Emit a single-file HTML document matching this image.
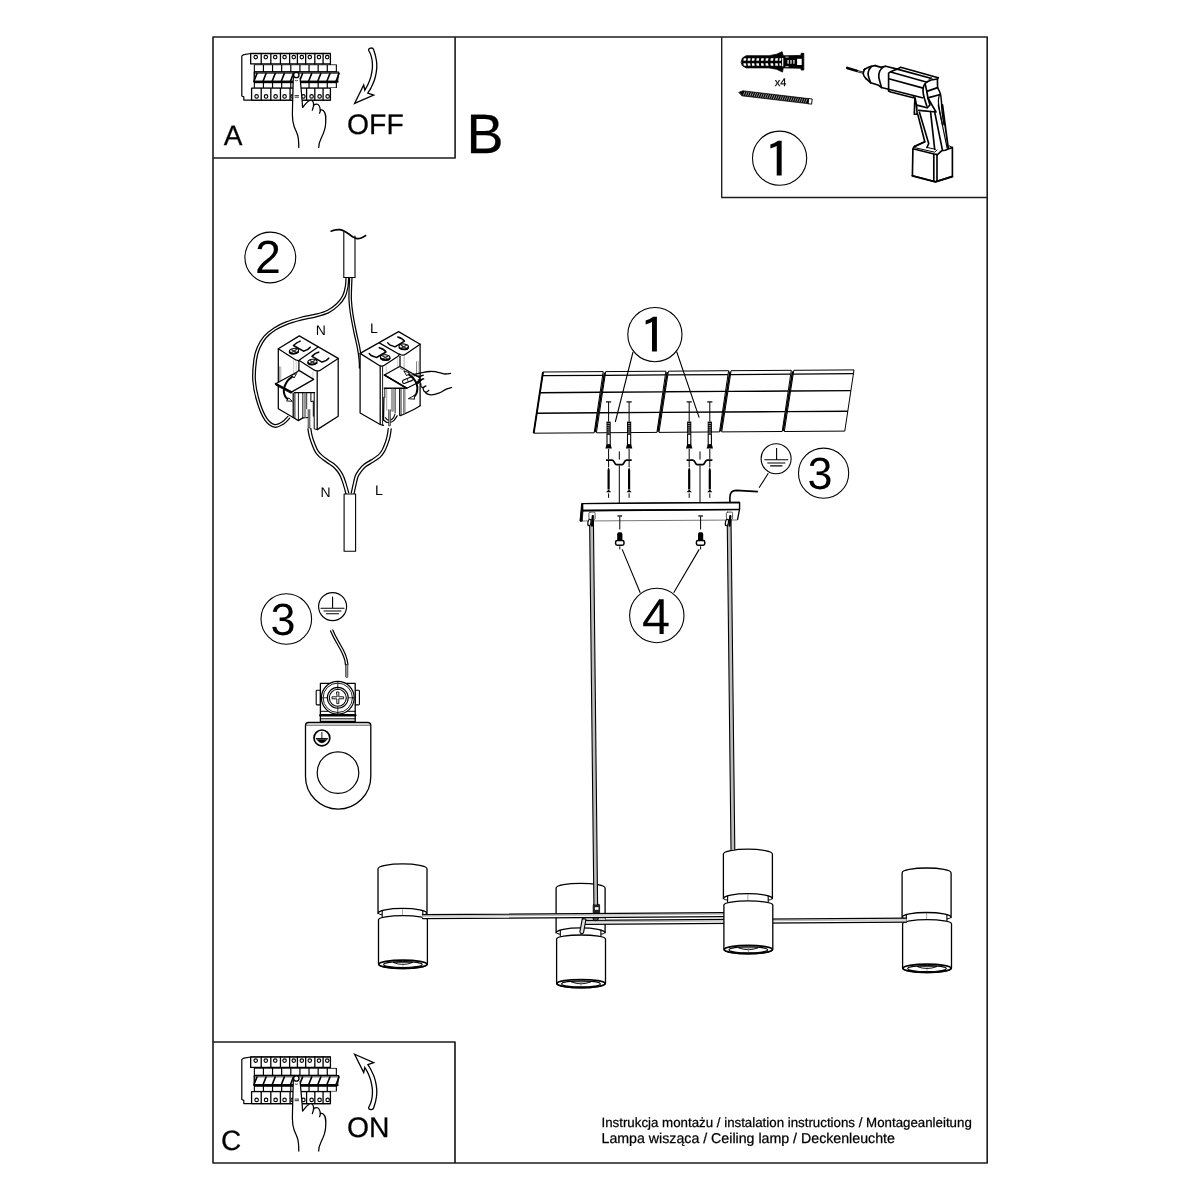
<!DOCTYPE html>
<html lang="pl"><head><meta charset="utf-8"><title>Instrukcja montażu</title>
<style>
html,body{margin:0;padding:0;background:#fff}
svg{display:block}
text{font-family:"Liberation Sans",sans-serif;fill:#000;text-rendering:geometricPrecision}
svg{filter:grayscale(1)}
.d1{font-family:"IPAGothic","Liberation Sans",sans-serif}
.l{fill:none;stroke:#000;stroke-width:1}
.t{fill:none;stroke:#000;stroke-width:.7}
.k{fill:none;stroke:#000;stroke-width:1.5}
.w{fill:#fff;stroke:#000;stroke-width:1}
.b{fill:#000;stroke:none}
</style></head><body>
<svg width="1200" height="1200" viewBox="0 0 1200 1200">
<rect width="1200" height="1200" fill="#fff"/>
<g id="frame" fill="none" stroke="#1c1c1c" stroke-linejoin="round">
<rect x="213" y="37" width="774.2" height="1126" stroke-width="1.6"/>
<path d="M455.1 37V158H213" stroke-width="1.6"/>
<path d="M721.7 37V197.5H987.2" stroke-width="1.35"/>
<path d="M213 1042H455V1163" stroke-width="1.65"/>
</g>
<g id="labels" stroke="#000" stroke-width="0.25">
<text x="223.8" y="145" font-size="28">A</text>
<text x="466.6" y="153.4" font-size="55.5">B</text>
<text x="347.1" y="133.8" font-size="28.3">OFF</text>
<text x="220.9" y="1150.4" font-size="28">C</text>
<text x="347.1" y="1136.8" font-size="28.3">ON</text>
<text x="774.8" y="85.8" font-size="11">x4</text>
<text x="601.5" y="1126.6" font-size="13.3">Instrukcja montażu / instalation instructions / Montageanleitung</text>
<text x="601.5" y="1142.7" font-size="14.2">Lampa wisząca / Ceiling lamp / Deckenleuchte</text>
</g>

<g id="ceiling" class="l" stroke-width="1.5" stroke-linejoin="round">
<path d="M543 372L603.2 371.6L594.2 432.8L533.7 433.2Z" fill="#fff"/>
<path d="M542.4 375.7L602.7 375.3" stroke-width="1.25"/>
<path d="M539.9 392.7L600.2 392.3" stroke-width="1.45"/>
<path d="M536.7 413.2L597.1 412.8" stroke-width="1.45"/>
<path d="M543 372L533.7 433.2" stroke-width="1.9"/>
<path d="M605.7 371.6L665.9 371.2L656.9 432.4L596.4 432.8Z" fill="#fff"/>
<path d="M605.1 375.3L665.3 374.9" stroke-width="1.25"/>
<path d="M602.5 392.3L662.8 391.9" stroke-width="1.45"/>
<path d="M599.4 412.8L659.8 412.4" stroke-width="1.45"/>
<path d="M604.5 372.6L595.2 432.2" stroke-width="1.7" stroke-linecap="butt"/>
<path d="M668.4 371.2L728.6 370.7L719.5 431.9L659 432.4Z" fill="#fff"/>
<path d="M667.8 374.9L728 374.5" stroke-width="1.25"/>
<path d="M665.2 391.8L725.5 391.4" stroke-width="1.45"/>
<path d="M662.1 412.4L722.5 412" stroke-width="1.45"/>
<path d="M667.2 372.2L657.9 431.8" stroke-width="1.7" stroke-linecap="butt"/>
<path d="M731.1 370.7L791.3 370.3L782.2 431.5L721.7 431.9Z" fill="#fff"/>
<path d="M730.5 374.5L790.7 374.1" stroke-width="1.25"/>
<path d="M727.9 391.4L788.2 391" stroke-width="1.45"/>
<path d="M724.7 412L785.1 411.6" stroke-width="1.45"/>
<path d="M729.9 371.7L720.6 431.3" stroke-width="1.7" stroke-linecap="butt"/>
<path d="M793.8 370.3L854 369.9L844.8 431.1L784.3 431.5Z" fill="#fff"/>
<path d="M793.2 374L853.4 373.6" stroke-width="1.25"/>
<path d="M790.6 391L850.9 390.6" stroke-width="1.45"/>
<path d="M787.4 411.6L847.8 411.2" stroke-width="1.45"/>
<path d="M792.6 371.3L783.2 430.9" stroke-width="1.7" stroke-linecap="butt"/>
</g>

<g id="anchors" stroke="#000" fill="none">
<path d="M606 401.9H611.2" stroke-width="1.2"/>
<path d="M608.6 402V421.6" stroke-width="1"/>
<rect x="606.5" y="421.6" width="4.2" height="12" fill="#000" stroke="none"/>
<path d="M607.4 423.6H609.8" stroke="#fff" stroke-width="0.6"/>
<path d="M607.4 425.7H609.8" stroke="#fff" stroke-width="0.6"/>
<path d="M607.4 427.8H609.8" stroke="#fff" stroke-width="0.6"/>
<path d="M607.4 429.9H609.8" stroke="#fff" stroke-width="0.6"/>
<path d="M607.4 432H609.8" stroke="#fff" stroke-width="0.6"/>
<rect x="607" y="434.2" width="3.2" height="10.6" fill="#fff" stroke-width="1.1"/>
<path d="M606.5 444.6H610.7L611.8 448.4H605.4Z" fill="#000" stroke="none"/>
<path d="M608.6 449V459" stroke-width="1"/>
<path d="M608.6 467L609.7 470V489.6H607.5V470Z" fill="#000" stroke="none"/>
<path d="M608.6 489.4L611.2 492.2H606Z" fill="#000" stroke="none"/>
<path d="M608.6 461V467M608.6 493.4V497.8" stroke-width="1"/>
<path d="M626.5 401.9H631.7" stroke-width="1.2"/>
<path d="M629.1 402V421.6" stroke-width="1"/>
<rect x="627" y="421.6" width="4.2" height="12" fill="#000" stroke="none"/>
<path d="M627.9 423.6H630.3" stroke="#fff" stroke-width="0.6"/>
<path d="M627.9 425.7H630.3" stroke="#fff" stroke-width="0.6"/>
<path d="M627.9 427.8H630.3" stroke="#fff" stroke-width="0.6"/>
<path d="M627.9 429.9H630.3" stroke="#fff" stroke-width="0.6"/>
<path d="M627.9 432H630.3" stroke="#fff" stroke-width="0.6"/>
<rect x="627.5" y="434.2" width="3.2" height="10.6" fill="#fff" stroke-width="1.1"/>
<path d="M627 444.6H631.2L632.3 448.4H625.9Z" fill="#000" stroke="none"/>
<path d="M629.1 449V459" stroke-width="1"/>
<path d="M629.1 467L630.2 470V489.6H628V470Z" fill="#000" stroke="none"/>
<path d="M629.1 489.4L631.7 492.2H626.5Z" fill="#000" stroke="none"/>
<path d="M629.1 461V467M629.1 493.4V497.8" stroke-width="1"/>
<path d="M606 460.1H612.1C614.7 460.1 614.1 464.6 616.5 464.6H622.1C624.5 464.6 623.9 460.1 626.5 460.1H631.7" stroke-width="1.7"/>
<path d="M619.3 451.4V459.6M619.3 465.4V503" stroke-width="1"/>
<path d="M686.6 401.9H691.8" stroke-width="1.2"/>
<path d="M689.2 402V421.6" stroke-width="1"/>
<rect x="687.1" y="421.6" width="4.2" height="12" fill="#000" stroke="none"/>
<path d="M688 423.6H690.4" stroke="#fff" stroke-width="0.6"/>
<path d="M688 425.7H690.4" stroke="#fff" stroke-width="0.6"/>
<path d="M688 427.8H690.4" stroke="#fff" stroke-width="0.6"/>
<path d="M688 429.9H690.4" stroke="#fff" stroke-width="0.6"/>
<path d="M688 432H690.4" stroke="#fff" stroke-width="0.6"/>
<rect x="687.6" y="434.2" width="3.2" height="10.6" fill="#fff" stroke-width="1.1"/>
<path d="M687.1 444.6H691.3L692.4 448.4H686Z" fill="#000" stroke="none"/>
<path d="M689.2 449V459" stroke-width="1"/>
<path d="M689.2 467L690.3 470V489.6H688.1V470Z" fill="#000" stroke="none"/>
<path d="M689.2 489.4L691.8 492.2H686.6Z" fill="#000" stroke="none"/>
<path d="M689.2 461V467M689.2 493.4V497.8" stroke-width="1"/>
<path d="M707.2 401.9H712.4" stroke-width="1.2"/>
<path d="M709.8 402V421.6" stroke-width="1"/>
<rect x="707.7" y="421.6" width="4.2" height="12" fill="#000" stroke="none"/>
<path d="M708.6 423.6H711" stroke="#fff" stroke-width="0.6"/>
<path d="M708.6 425.7H711" stroke="#fff" stroke-width="0.6"/>
<path d="M708.6 427.8H711" stroke="#fff" stroke-width="0.6"/>
<path d="M708.6 429.9H711" stroke="#fff" stroke-width="0.6"/>
<path d="M708.6 432H711" stroke="#fff" stroke-width="0.6"/>
<rect x="708.2" y="434.2" width="3.2" height="10.6" fill="#fff" stroke-width="1.1"/>
<path d="M707.7 444.6H711.9L713 448.4H706.6Z" fill="#000" stroke="none"/>
<path d="M709.8 449V459" stroke-width="1"/>
<path d="M709.8 467L710.9 470V489.6H708.7V470Z" fill="#000" stroke="none"/>
<path d="M709.8 489.4L712.4 492.2H707.2Z" fill="#000" stroke="none"/>
<path d="M709.8 461V467M709.8 493.4V497.8" stroke-width="1"/>
<path d="M686.6 460.1H692.8C695.4 460.1 694.8 464.6 697.2 464.6H702.8C705.2 464.6 704.6 460.1 707.2 460.1H712.4" stroke-width="1.7"/>
<path d="M700 451.4V459.6M700 465.4V503" stroke-width="1"/>
</g>

<g id="canopy" stroke="#000" fill="none" stroke-linejoin="round">
<path d="M580.3 521L737.5 520" stroke-width="1" stroke="#777"/>
<path d="M582.5 503.7L739.5 502.5L739.5 509.3L737.5 519.9M582.5 503.7L580.3 520.9" stroke-width="1.3" />
<path d="M582.5 503.7L739.5 502.5L739.5 509.3L582 510.5Z" fill="#fff" stroke-width="1.3"/>
<path d="M582 510.7L739.5 509.5" stroke-width="1.7"/>
<path d="M581.6 503.4L582.8 503.6L583 510.6L582.2 521.2L580 521.2Z" fill="#000" stroke-width="0.8"/>
<path d="M617.5 516H622.1" stroke-width="1.3"/>
<path d="M619.8 516.5V529.5" stroke-width="1"/>
<path d="M617.2 541V534.2Q617.2 532.2 618.8 532.2H620.8Q622.4 532.2 622.4 534.2V541Z" fill="#000" stroke="none"/>
<rect x="615.6" y="540.6" width="8.4" height="4.6" rx="1.6" fill="#fff" stroke-width="1.5"/>
<path d="M619.8 546.3V549.4" stroke-width="1"/>
<path d="M698.3 516H702.9" stroke-width="1.3"/>
<path d="M700.6 516.5V529.5" stroke-width="1"/>
<path d="M698 541V534.2Q698 532.2 699.6 532.2H701.6Q703.2 532.2 703.2 534.2V541Z" fill="#000" stroke="none"/>
<rect x="696.4" y="540.6" width="8.4" height="4.6" rx="1.6" fill="#fff" stroke-width="1.5"/>
<path d="M700.6 546.3V549.4" stroke-width="1"/>
<path d="M729.9 502V497.5C729.9 493 732 490.4 736.2 490.4L757.9 491.6" stroke-width="1.6"/>
</g>
<g id="callouts" stroke="#000" fill="none" stroke-width="1.1">
<path d="M633 352L615.3 422M676.6 351.5L699.2 417.6"/>
<circle cx="654.9" cy="334.6" r="27.1" fill="#fff"/><text transform="translate(638.5 354.2) scale(1.22 1)" font-size="49.5" class="d1" stroke="none">1</text>
<path d="M622.2 549.4L640.2 592.8M699.2 549.4L673.7 592.8"/>
<circle cx="656.8" cy="615.5" r="27.2" fill="#fff"/><text x="642.1" y="633.8" font-size="50.5" stroke="none">4</text>
<circle cx="823.6" cy="473.2" r="25.1" fill="#fff"/><text x="807.4" y="489.4" font-size="45" stroke="none">3</text>
<circle cx="776.1" cy="458.8" r="15" fill="#fff"/>
<path d="M776.6 448V459.7M764.3 459.8H788.3M767.3 463H785.3M770.2 465.9H782.4"/>
<path d="M768.3 473.3L759.1 487.8"/>
<circle cx="270.3" cy="257.5" r="25.4" fill="#fff"/><text x="255.1" y="273.2" font-size="46.5" stroke="none">2</text>
<circle cx="286.3" cy="619" r="25.3" fill="#fff"/><text x="270.6" y="634.8" font-size="45" stroke="none">3</text>
<circle cx="779.6" cy="158.2" r="27.1" fill="#fff"/><text transform="translate(763.2 177.8) scale(1.22 1)" font-size="49.5" class="d1" stroke="none">1</text>
</g>

<g id="lamps" stroke="#000" fill="none" stroke-linejoin="round" stroke-linecap="round">
<path d="M556.1 932.8A24.5 3 0 0 0 605.1 932.8" stroke-width="1"/>
<path d="M560.3 926.8V939H600.9V926.8Z" fill="#fff" stroke="none"/>
<path d="M560.3 929.8V938M600.9 929.8V938" stroke-width="1.1"/>
<path d="M580.6 927.8V935" stroke-width="0.5" stroke="#555"/>
<path d="M556.1 888.2A24.5 4.9 0 0 1 605.1 888.2V932.8A24.5 5 0 0 0 556.1 932.8Z" fill="#fff" stroke-width="1.3"/>
<path d="M556.6 939A24.45 4 0 0 1 605.5 939V983.6A24.45 4.3 0 0 1 556.6 983.6Z" fill="#fff" stroke-width="1.3"/>
<ellipse cx="581" cy="983.6" rx="24" ry="4.1" fill="#fff" stroke-width="1.7"/>
<ellipse cx="581" cy="983.9" rx="19.3" ry="3" stroke-width="1.1"/>
<path d="M571.5 982Q581 985.8 590.5 982" stroke-width="0.9"/>
<path d="M571.5 981.9H590.5" stroke-width="0.7"/>
<path d="M581 979.6V987.1" stroke-width="0.5" stroke="#555"/>
<path d="M378 913.4A24.5 3 0 0 0 427 913.4" stroke-width="1"/>
<path d="M382.2 907.4V919.6H422.8V907.4Z" fill="#fff" stroke="none"/>
<path d="M382.2 910.4V918.6M422.8 910.4V918.6" stroke-width="1.1"/>
<path d="M402.5 908.4V915.6" stroke-width="0.5" stroke="#555"/>
<path d="M378 868.8A24.5 4.9 0 0 1 427 868.8V913.4A24.5 5 0 0 0 378 913.4Z" fill="#fff" stroke-width="1.3"/>
<path d="M378.5 919.6A24.45 4 0 0 1 427.4 919.6V964.2A24.45 4.3 0 0 1 378.5 964.2Z" fill="#fff" stroke-width="1.3"/>
<ellipse cx="402.9" cy="964.2" rx="24" ry="4.1" fill="#fff" stroke-width="1.7"/>
<ellipse cx="402.9" cy="964.5" rx="19.3" ry="3" stroke-width="1.1"/>
<path d="M393.4 962.6Q402.9 966.4 412.4 962.6" stroke-width="0.9"/>
<path d="M393.4 962.5H412.4" stroke-width="0.7"/>
<path d="M402.9 960.2V967.7" stroke-width="0.5" stroke="#555"/>
<path d="M902.1 917.5A24.5 3 0 0 0 951.1 917.5" stroke-width="1"/>
<path d="M906.3 911.5V923.7H946.9V911.5Z" fill="#fff" stroke="none"/>
<path d="M906.3 914.5V922.7M946.9 914.5V922.7" stroke-width="1.1"/>
<path d="M926.6 912.5V919.7" stroke-width="0.5" stroke="#555"/>
<path d="M902.1 872.9A24.5 4.9 0 0 1 951.1 872.9V917.5A24.5 5 0 0 0 902.1 917.5Z" fill="#fff" stroke-width="1.3"/>
<path d="M902.6 923.7A24.45 4 0 0 1 951.5 923.7V968.3A24.45 4.3 0 0 1 902.6 968.3Z" fill="#fff" stroke-width="1.3"/>
<ellipse cx="927" cy="968.3" rx="24" ry="4.1" fill="#fff" stroke-width="1.7"/>
<ellipse cx="927" cy="968.6" rx="19.3" ry="3" stroke-width="1.1"/>
<path d="M917.5 966.7Q927 970.5 936.5 966.7" stroke-width="0.9"/>
<path d="M917.5 966.6H936.5" stroke-width="0.7"/>
<path d="M927 964.3V971.8" stroke-width="0.5" stroke="#555"/>
<path d="M585.4 920.3L906.4 918.2L906.4 922.2L585.4 924.3Z" fill="#fff" stroke="none"/><path d="M585.4 921.3L906.4 919.2L906.4 920.4L585.4 922.5Z" fill="#b8b8b8" stroke="none"/><path d="M585.4 920.3L906.4 918.2M585.4 924.3L906.4 922.2" stroke-width="1.25"/>
<path d="M587 918.2H605.3V920H587Z" fill="#c8c8c8" stroke="none"/>
<path d="M592.9 918A2.8 2.8 0 0 0 598.5 918Z" fill="#555" stroke-width="1"/>
<path d="M422.6 914.6L724.5 912.6L724.5 916.6L422.6 918.6Z" fill="#fff" stroke="none"/><path d="M422.6 915.6L724.5 913.6L724.5 914.8L422.6 916.8Z" fill="#b8b8b8" stroke="none"/><path d="M422.6 914.6L724.5 912.6M422.6 918.6L724.5 916.6" stroke-width="1.25"/>
<path d="M723.4 898.7A24.5 3 0 0 0 772.4 898.7" stroke-width="1"/>
<path d="M727.6 892.7V904.9H768.2V892.7Z" fill="#fff" stroke="none"/>
<path d="M727.6 895.7V903.9M768.2 895.7V903.9" stroke-width="1.1"/>
<path d="M747.9 893.7V900.9" stroke-width="0.5" stroke="#555"/>
<path d="M723.4 854.1A24.5 4.9 0 0 1 772.4 854.1V898.7A24.5 5 0 0 0 723.4 898.7Z" fill="#fff" stroke-width="1.3"/>
<path d="M723.9 904.9A24.45 4 0 0 1 772.8 904.9V949.5A24.45 4.3 0 0 1 723.9 949.5Z" fill="#fff" stroke-width="1.3"/>
<ellipse cx="748.3" cy="949.5" rx="24" ry="4.1" fill="#fff" stroke-width="1.7"/>
<ellipse cx="748.3" cy="949.8" rx="19.3" ry="3" stroke-width="1.1"/>
<path d="M738.8 947.9Q748.3 951.7 757.8 947.9" stroke-width="0.9"/>
<path d="M738.8 947.8H757.8" stroke-width="0.7"/>
<path d="M748.3 945.5V953" stroke-width="0.5" stroke="#555"/>
<path d="M582.3 918.6L579.9 931.6A1.9 1.9 0 0 0 583.6 932.3L586 919Z" fill="#ddd" stroke-width="1.1"/>
<rect x="593.2" y="904.3" width="6.4" height="9" rx="1" fill="#222" stroke-width="0.8"/>
<rect x="594.9" y="907.2" width="3.6" height="2.6" fill="#fff" stroke="none"/>
</g>

<g id="susp" stroke="#000" fill="none" stroke-linecap="round">
<path d="M589.6 519L593.4 519L597.6 904.5L593.9 904.5Z" fill="#bbb" stroke="none"/><path d="M589.6 519L593.9 904.5M593.4 519L597.6 904.5" stroke-width="1.1"/>
<path d="M727.2 519L731 519L734.8 849.6L731 849.6Z" fill="#bbb" stroke="none"/><path d="M727.2 519L731 849.6M731 519L734.8 849.6" stroke-width="1.1"/>
<rect x="588.9" y="512.1" width="6.2" height="7.4" rx="1.2" fill="#fff" stroke="#444" stroke-width="0.9"/>
<path d="M592.8 516.2L592.1 525.5" stroke-width="2.3"/>
<ellipse cx="589.4" cy="522.5" rx="1.5" ry="3.3" fill="#fff" stroke-width="1.2" transform="rotate(10 589.4 522.5)"/>
<rect x="726.4" y="512.1" width="6.2" height="7.4" rx="1.2" fill="#fff" stroke="#444" stroke-width="0.9"/>
<path d="M730.3 516.2L729.6 525.5" stroke-width="2.3"/>
<ellipse cx="726.9" cy="522.5" rx="1.5" ry="3.3" fill="#fff" stroke-width="1.2" transform="rotate(10 726.9 522.5)"/>
</g>

<defs><g id="brk" stroke="#000" fill="none" stroke-linejoin="round" stroke-linecap="round">
<path d="M250.7 53.5L244 54.6L241.8 56V96L243.8 96.9V100.1H330.4V53.5Z" fill="#fff" stroke-width="1.2"/>
<path d="M250.67 53.5H330.41V63.9H250.67Z" fill="#fff" stroke-width="1.3"/>
<path d="M261.21 53.5V63.9M270.83 53.5V63.9M280.45 53.5V63.9M289.62 53.5V63.9M297.41 53.5V63.9M305.66 53.5V63.9M314.83 53.5V63.9M323.08 53.5V63.9" stroke-width="1.3"/>
<circle cx="255.71" cy="57.1" r="1.75" stroke-width="1.15"/>
<circle cx="265.79" cy="57.1" r="1.75" stroke-width="1.15"/>
<circle cx="275.23" cy="57.1" r="1.75" stroke-width="1.15"/>
<circle cx="284.58" cy="57.1" r="1.75" stroke-width="1.15"/>
<circle cx="293.75" cy="57.1" r="1.75" stroke-width="1.15"/>
<circle cx="301.81" cy="57.1" r="1.75" stroke-width="1.15"/>
<circle cx="309.79" cy="57.1" r="1.75" stroke-width="1.15"/>
<circle cx="318.95" cy="57.1" r="1.75" stroke-width="1.15"/>
<circle cx="327.2" cy="57.1" r="1.75" stroke-width="1.15"/>
<path d="M251.58 88.2H330.41V100.1H251.58Z" fill="#fff" stroke-width="1.3"/>
<path d="M261.21 88.2V100.1M270.83 88.2V100.1M280.45 88.2V100.1M290.08 88.2V100.1M298.33 88.2V100.1M306.58 88.2V100.1M314.83 88.2V100.1M323.08 88.2V100.1" stroke-width="1.3"/>
<circle cx="256.62" cy="96.4" r="1.75" stroke-width="1.15"/>
<circle cx="266.06" cy="96.4" r="1.75" stroke-width="1.15"/>
<circle cx="275.6" cy="96.4" r="1.75" stroke-width="1.15"/>
<circle cx="284.58" cy="96.4" r="1.75" stroke-width="1.15"/>
<circle cx="292.65" cy="96.4" r="1.75" stroke-width="1.15"/>
<circle cx="303.37" cy="96.4" r="1.75" stroke-width="1.15"/>
<circle cx="311.62" cy="96.4" r="1.75" stroke-width="1.15"/>
<circle cx="319.59" cy="96.4" r="1.75" stroke-width="1.15"/>
<circle cx="327.66" cy="96.4" r="1.75" stroke-width="1.15"/>
<rect x="253.8" y="64.4" width="83.1" height="23.6" fill="#000" stroke="none"/>
<rect x="254.9" y="65.2" width="7.92" height="6" fill="#fff" stroke="none"/>
<rect x="254.9" y="83.2" width="7.92" height="4.2" fill="#fff" stroke="none"/>
<rect x="264.02" y="65.2" width="7.92" height="6" fill="#fff" stroke="none"/>
<rect x="264.02" y="83.2" width="7.92" height="4.2" fill="#fff" stroke="none"/>
<rect x="273.14" y="65.2" width="7.92" height="6" fill="#fff" stroke="none"/>
<rect x="273.14" y="83.2" width="7.92" height="4.2" fill="#fff" stroke="none"/>
<rect x="282.27" y="65.2" width="7.92" height="6" fill="#fff" stroke="none"/>
<rect x="282.27" y="83.2" width="7.92" height="4.2" fill="#fff" stroke="none"/>
<rect x="291.39" y="65.2" width="7.92" height="6" fill="#fff" stroke="none"/>
<rect x="291.39" y="83.2" width="7.92" height="4.2" fill="#fff" stroke="none"/>
<rect x="300.51" y="65.2" width="7.92" height="6" fill="#fff" stroke="none"/>
<rect x="300.51" y="83.2" width="7.92" height="4.2" fill="#fff" stroke="none"/>
<rect x="309.63" y="65.2" width="7.92" height="6" fill="#fff" stroke="none"/>
<rect x="309.63" y="83.2" width="7.92" height="4.2" fill="#fff" stroke="none"/>
<rect x="318.76" y="65.2" width="7.92" height="6" fill="#fff" stroke="none"/>
<rect x="318.76" y="83.2" width="7.92" height="4.2" fill="#fff" stroke="none"/>
<rect x="327.88" y="65.2" width="7.92" height="6" fill="#fff" stroke="none"/>
<rect x="327.88" y="83.2" width="7.92" height="4.2" fill="#fff" stroke="none"/>
<path d="M254.3 72.1H338.7L337.6 81.3H254.3Z" fill="#fff" stroke-width="1.2"/>
<path d="M254.3 73.4H338.4" stroke-width="0.7"/>
<path d="M254.3 81.7H337.6" stroke-width="2"/>
<path d="M254 81L256.9 73.6M263.12 81L266.02 73.6M272.24 81L275.14 73.6M281.37 81L284.27 73.6M290.49 81L293.39 73.6M299.61 81L302.51 73.6M308.73 81L311.63 73.6M317.86 81L320.76 73.6M326.98 81L329.88 73.6M336.1 81L339 73.6" stroke-width="1.6"/>
<path d="M293.3 77C293 90 292.5 104 292.4 115C292.4 121 293.2 124 294.2 126.7C295.4 129.8 296.6 132 297.4 134.5C298.4 137.5 298.8 141 298.8 147.5L318.7 147.5C318.6 143 320 140.5 321.4 137.7C323.5 133.5 325.3 130 325.6 124C325.9 118 326.5 113 323.2 110.4C321.5 109.2 320.3 110 320.2 111.5L319.5 113.2L320.2 111.5C320.6 106.5 318.6 104.2 316.5 104.2C314.6 104.2 313.3 105.6 313.3 107L312.3 110.2L313.3 107C314.2 103 313 100.3 310.8 100.2C308.5 100.1 306.6 102.3 302.6 107.6C302 98 301 88 300.1 78Z" fill="#fff" stroke="none"/>
<path d="M293.3 77C293 90 292.5 104 292.4 115C292.4 121 293.2 124 294.2 126.7C295.4 129.8 296.6 132 297.4 134.5C298.4 137.5 298.8 141 298.8 147.5M318.7 147.5C318.6 143 320 140.5 321.4 137.7C323.5 133.5 325.3 130 325.6 124C325.9 118 326.5 113 323.2 110.4C321.5 109.2 320.3 110 320.2 111.5L319.5 113.2L320.2 111.5C320.6 106.5 318.6 104.2 316.5 104.2C314.6 104.2 313.3 105.6 313.3 107L312.3 110.2L313.3 107C314.2 103 313 100.3 310.8 100.2C308.5 100.1 306.6 102.3 302.6 107.6C302 98 301 88 300.1 78" stroke-width="1.25"/>
<path d="M295.2 80.6Q296.4 81.3 297.6 80.6" stroke-width="0.7"/>
<path d="M295 95.6H298.6M295 97.2H298.6" stroke-width="0.8"/>
<circle cx="296.3" cy="75" r="2.7" fill="#fff" stroke-width="1.3"/>
</g>
<path id="arw" d="M373.6 49.6C373.9 50.7 375.1 53.9 375.6 56.3C376.2 58.8 376.7 61.8 376.8 64.5C376.9 67.2 376.7 69.9 376.2 72.7C375.8 75.4 375.1 78.2 374.2 80.8C373.2 83.5 371.7 86.4 370.7 88.4C369.6 90.5 368.2 92.3 367.8 93.1L373.7 95.1L354.6 103.4L363.7 85L364.8 90.2C365.4 89.1 367.3 86.1 368.3 83.8C369.4 81.4 370.3 78.8 371 76.2C371.6 73.5 372.2 70.6 372.4 68C372.6 65.4 372.4 62.7 372.1 60.4C371.8 58.2 371.3 56.3 370.7 54.6C370.1 52.9 369 50.9 368.6 50.2C368.2 47.7 372.9 47.1 373.6 49.6Z" fill="#fff" stroke="#000" stroke-width="1.3" stroke-linejoin="miter"/>
</defs>
<use href="#brk"/><use href="#arw"/>
<use href="#brk" transform="translate(0 1003.5)"/><use href="#arw" transform="translate(0 1157.65) scale(1 -1)"/>

<g id="sec2" stroke="#000" fill="none" stroke-linejoin="round" stroke-linecap="round">
<path d="M346 277.5C345.9 278.9 345.9 283.1 345.4 286.1C344.9 289.1 344.3 292.5 342.8 295.4C341.4 298.4 339.2 301.2 336.6 303.8C334 306.3 330.7 308.8 327.2 310.5C323.7 312.3 319.9 313.1 315.5 314.2C311 315.4 305.3 316.3 300.4 317.5C295.5 318.8 290.5 320.2 286.1 321.9C281.7 323.6 277.7 325.5 274 327.9C270.3 330.3 266.7 333.1 263.9 336.4C261.1 339.6 258.9 343.6 257.2 347.5C255.5 351.4 254.6 354.2 253.9 359.7C253.2 365.2 252.3 373.4 252.8 380.5C253.3 387.6 255.1 395.9 257.2 402.5C259.2 409.1 262 416 264.9 420.1C267.8 424.3 271.3 426.6 274.5 427.2C277.6 427.8 281.4 425.3 284 423.8C286.5 422.3 288.8 419.2 289.7 418.2L287.9 416.4C287 417.2 284.8 420.2 282.6 421.6C280.5 423 277.5 425.1 274.9 424.6C272.4 424.1 269.6 422.5 267.1 418.7C264.5 414.8 261.6 408.1 259.6 401.7C257.7 395.3 255.9 387.2 255.4 380.3C254.9 373.4 255.8 365.4 256.5 360.1C257.2 354.8 258 352.2 259.6 348.5C261.2 344.8 263.3 341.1 265.9 338C268.5 335 271.9 332.4 275.4 330.1C278.9 327.8 282.8 326 287.1 324.3C291.3 322.6 296.2 321.3 301 320.1C305.9 318.8 311.6 318 316.1 316.8C320.7 315.6 324.7 314.7 328.4 312.9C332.1 311 335.6 308.3 338.4 305.6C341.2 302.9 343.6 299.8 345.2 296.6C346.8 293.4 347.4 289.7 348 286.5C348.6 283.4 348.5 279.2 348.6 277.7" fill="#fff" stroke="none"/><path d="M346 277.5C345.9 278.9 345.9 283.1 345.4 286.1C344.9 289.1 344.3 292.5 342.8 295.4C341.4 298.4 339.2 301.2 336.6 303.8C334 306.3 330.7 308.8 327.2 310.5C323.7 312.3 319.9 313.1 315.5 314.2C311 315.4 305.3 316.3 300.4 317.5C295.5 318.8 290.5 320.2 286.1 321.9C281.7 323.6 277.7 325.5 274 327.9C270.3 330.3 266.7 333.1 263.9 336.4C261.1 339.6 258.9 343.6 257.2 347.5C255.5 351.4 254.6 354.2 253.9 359.7C253.2 365.2 252.3 373.4 252.8 380.5C253.3 387.6 255.1 395.9 257.2 402.5C259.2 409.1 262 416 264.9 420.1C267.8 424.3 271.3 426.6 274.5 427.2C277.6 427.8 281.4 425.3 284 423.8C286.5 422.3 288.8 419.2 289.7 418.2M348.6 277.7C348.5 279.2 348.6 283.4 348 286.5C347.4 289.7 346.8 293.4 345.2 296.6C343.6 299.8 341.2 302.9 338.4 305.6C335.6 308.3 332.1 311 328.4 312.9C324.7 314.7 320.7 315.6 316.1 316.8C311.6 318 305.9 318.8 301 320.1C296.2 321.3 291.3 322.6 287.1 324.3C282.8 326 278.9 327.8 275.4 330.1C271.9 332.4 268.5 335 265.9 338C263.3 341.1 261.2 344.8 259.6 348.5C258 352.2 257.2 354.8 256.5 360.1C255.8 365.4 254.9 373.4 255.4 380.3C255.9 387.2 257.7 395.3 259.6 401.7C261.6 408.1 264.5 414.8 267.1 418.7C269.6 422.5 272.4 424.1 274.9 424.6C277.5 425.1 280.5 423 282.6 421.6C284.8 420.2 287 417.2 287.9 416.4" stroke-width="1.25"/>
<path d="M349.6 277.6C349.5 279.6 349.2 286.2 349.1 290C349 293.7 348.8 296.1 349 300.1C349.2 304 349.6 308.3 350.4 313.5C351.2 318.6 352.5 325.1 353.6 330.9C354.8 336.7 356.5 343.4 357.4 348.2C358.3 353.1 358.8 356.7 359.1 360C359.4 363.3 359.4 366.7 359.4 368L361.8 368C361.7 366.6 361.8 363.1 361.5 359.8C361.2 356.4 360.7 352.7 359.8 347.8C358.9 342.9 357.1 336.2 356 330.5C354.8 324.7 353.5 318.2 352.8 313.1C352 308 351.6 303.8 351.4 299.9C351.2 296.1 351.4 293.7 351.5 290C351.6 286.3 351.9 279.7 352 277.6" fill="#fff" stroke="none"/><path d="M349.6 277.6C349.5 279.6 349.2 286.2 349.1 290C349 293.7 348.8 296.1 349 300.1C349.2 304 349.6 308.3 350.4 313.5C351.2 318.6 352.5 325.1 353.6 330.9C354.8 336.7 356.5 343.4 357.4 348.2C358.3 353.1 358.8 356.7 359.1 360C359.4 363.3 359.4 366.7 359.4 368M352 277.6C351.9 279.7 351.6 286.3 351.5 290C351.4 293.7 351.2 296.1 351.4 299.9C351.6 303.8 352 308 352.8 313.1C353.5 318.2 354.8 324.7 356 330.5C357.1 336.2 358.9 342.9 359.8 347.8C360.7 352.7 361.2 356.4 361.5 359.8C361.8 363.1 361.7 366.6 361.8 368" stroke-width="1.25"/>
<path d="M343.8 232V277.5H355V236" fill="#fff" stroke-width="1.1"/>
<path d="M331.2 231.2C332 231 334.2 230.1 335.6 229.9C337.1 229.6 338.5 229.4 340 229.6C341.5 229.9 342.9 230.5 344.4 231.2C345.8 232 347.3 233 348.8 234C350.2 235 351.8 236.2 353.1 237C354.5 237.8 355.5 238.5 356.9 238.6C358.2 238.8 359.8 238.5 361.2 238C362.7 237.5 364.9 236 365.6 235.6" stroke-width="1.7"/>
<path d="M307.9 428.9C308.1 430.2 308.6 433.8 309.3 436.4C309.9 439 311 441.9 312 444.5C313 447.1 314.1 450 315.4 452.1C316.7 454.2 317.8 455.4 319.7 457.1C321.5 458.8 324.3 460.6 326.5 462.2C328.7 463.8 331.2 465.2 333.1 466.7C334.9 468.3 336.2 469.8 337.5 471.5C338.8 473.2 339.7 474.7 340.7 476.9C341.6 479 342.4 481.6 343.3 484.4C344.2 487.2 345.5 492.2 345.9 493.7L348.7 492.9C348.3 491.4 347 486.4 346.1 483.6C345.1 480.7 344.4 478 343.3 475.7C342.3 473.4 341.2 471.7 339.8 469.8C338.4 467.9 336.9 466.1 334.9 464.5C333 462.8 330.4 461.5 328.2 459.9C326 458.3 323.4 456.5 321.6 454.9C319.9 453.4 319.1 452.5 317.9 450.6C316.7 448.7 315.7 446 314.7 443.5C313.7 441 312.7 438.1 312.1 435.6C311.4 433.1 311 429.6 310.8 428.4" fill="#fff" stroke="none"/><path d="M307.9 428.9C308.1 430.2 308.6 433.8 309.3 436.4C309.9 439 311 441.9 312 444.5C313 447.1 314.1 450 315.4 452.1C316.7 454.2 317.8 455.4 319.7 457.1C321.5 458.8 324.3 460.6 326.5 462.2C328.7 463.8 331.2 465.2 333.1 466.7C334.9 468.3 336.2 469.8 337.5 471.5C338.8 473.2 339.7 474.7 340.7 476.9C341.6 479 342.4 481.6 343.3 484.4C344.2 487.2 345.5 492.2 345.9 493.7M310.8 428.4C311 429.6 311.4 433.1 312.1 435.6C312.7 438.1 313.7 441 314.7 443.5C315.7 446 316.7 448.7 317.9 450.6C319.1 452.5 319.9 453.4 321.6 454.9C323.4 456.5 326 458.3 328.2 459.9C330.4 461.5 333 462.8 334.9 464.5C336.9 466.1 338.4 467.9 339.8 469.8C341.2 471.7 342.3 473.4 343.3 475.7C344.4 478 345.1 480.7 346.1 483.6C347 486.4 348.3 491.4 348.7 492.9" stroke-width="1.25"/>
<path d="M388.3 428.5C388.1 429.7 387.7 433.4 387.2 435.7C386.7 438 386.2 440.1 385.3 442.4C384.4 444.8 383.2 447.9 382.1 450C380.9 452 380.2 453.3 378.4 454.9C376.5 456.6 373.6 458.3 371.2 459.9C368.8 461.4 365.8 462.8 363.8 464.5C361.7 466.1 360.2 467.9 358.8 469.8C357.4 471.7 356.3 473.4 355.3 475.7C354.4 478 353.9 480.8 353.3 483.7C352.6 486.6 351.6 491.5 351.2 493L354.1 493.6C354.4 492.1 355.4 487.1 356.1 484.3C356.7 481.5 357.2 478.9 358 476.8C358.9 474.7 359.9 473.2 361.2 471.5C362.4 469.9 363.6 468.3 365.6 466.7C367.5 465.2 370.3 463.9 372.8 462.3C375.3 460.7 378.3 458.9 380.3 457.1C382.3 455.3 383.3 453.6 384.6 451.4C385.9 449.1 387.1 445.9 388 443.4C388.9 440.9 389.6 438.7 390.1 436.3C390.6 433.9 391 430.1 391.2 428.9" fill="#fff" stroke="none"/><path d="M388.3 428.5C388.1 429.7 387.7 433.4 387.2 435.7C386.7 438 386.2 440.1 385.3 442.4C384.4 444.8 383.2 447.9 382.1 450C380.9 452 380.2 453.3 378.4 454.9C376.5 456.6 373.6 458.3 371.2 459.9C368.8 461.4 365.8 462.8 363.8 464.5C361.7 466.1 360.2 467.9 358.8 469.8C357.4 471.7 356.3 473.4 355.3 475.7C354.4 478 353.9 480.8 353.3 483.7C352.6 486.6 351.6 491.5 351.2 493M391.2 428.9C391 430.1 390.6 433.9 390.1 436.3C389.6 438.7 388.9 440.9 388 443.4C387.1 445.9 385.9 449.1 384.6 451.4C383.3 453.6 382.3 455.3 380.3 457.1C378.3 458.9 375.3 460.7 372.8 462.3C370.3 463.9 367.5 465.2 365.6 466.7C363.6 468.3 362.4 469.9 361.2 471.5C359.9 473.2 358.9 474.7 358 476.8C357.2 478.9 356.7 481.5 356.1 484.3C355.4 487.1 354.4 492.1 354.1 493.6" stroke-width="1.25"/>
<rect x="344.1" y="494" width="11.5" height="57.3" fill="#fff" stroke-width="1.1"/>
</g>
<g id="nl" font-size="14"><text x="315.8" y="335.3">N</text><text x="370" y="333">L</text><text x="320.5" y="497.1">N</text><text x="374.9" y="495.1">L</text></g>

<g id="conn" stroke="#000" fill="none" stroke-linejoin="round" stroke-linecap="round" stroke-width="1.25">
<path d="M278.3 348.8L299.3 335.9L338.2 358.4L338.2 416.2L317.7 429.7L314.2 428.9L314.2 417.5L298.4 420.6L293.2 417.5L278.3 408.7Z" fill="#fff" stroke="none"/>
<path d="M317.2 371.1L317.2 429.6L338.2 416.2L338.2 358.4" />
<path d="M314.2 392.6L314.2 428.9L317.7 429.7" stroke-width="1"/>
<path d="M278.3 348.8L299.3 335.9L338.2 358.4L319.9 370.4Q316.8 371.8 313.7 369.8L299.7 360.8Q298.2 360.8 296.2 360.2Z" fill="#fff"/>
<path d="M299 360.2L318.1 347.1" />
<path d="M278.3 348.8L278.3 408.7L293.2 417.5" />
<path d="M279.8 366.7L279.8 382.5" stroke="#666" stroke-width="0.8"/>
<path d="M280.9 367.2L280.9 381.6" stroke="#999" stroke-width="0.6"/>
<path d="M298.9 360.6L298.9 370.4" />
<path d="M293.6 359.7L293.6 372.9" stroke="#aaa" stroke-width="0.6"/>
<path d="M296.2 360.2L296.2 371.8" stroke="#aaa" stroke-width="0.6"/>
<path d="M312.9 372L312.9 379" stroke="#aaa" stroke-width="0.6"/>
<path d="M294.5 392.6L314.6 392.6" stroke-width="1.2"/>
<path d="M293.2 393L293.2 417.5L298.4 420.6L302.8 417.9L308.5 417.5" />
<path d="M294.9 393.2L294.9 418.4" stroke-width="0.9"/>
<path d="M298.4 393.4L298.4 420.3" stroke-width="0.9"/>
<path d="M302.8 393.4L302.8 417.9" stroke-width="0.9"/>
<path d="M304.3 393.4L304.3 417.5L305.7 417.5L305.7 393.4Z" fill="#bbb" stroke="#555" stroke-width="0.6"/>
<path d="M306.7 393.4L306.7 408.7" stroke-width="0.8"/>
<path d="M310.9 393L310.9 401.7L313.3 401L313.3 416.2" stroke-width="1"/>
<path d="M275.7 383.8L297.1 372L298.9 370.4L313.7 379.4L291.4 392.1Z" fill="#fff"/>
<path d="M275.7 383.8L291.4 392.1" stroke-width="2"/>
<path d="M276.1 385.3L291 393.3L291.4 392.1" stroke-width="0.9"/>
<path d="M308.2 409.6L308.2 428L309.8 428L309.8 409.6" fill="#ccc" stroke="#333" stroke-width="0.9"/>
<path d="M292.9 376.2C292.1 376.9 289.3 378.7 287.9 380.3C286.6 381.9 285.6 383.7 284.9 385.6C284.2 387.4 283.8 389.4 283.8 391.2C283.9 393.1 284.5 395 285.3 396.5C286.1 397.9 288 399.4 288.5 400" stroke-width="2"/>
<path d="M296.2 373.7L291.7 375.1L293.8 377.7Z" fill="#fff" stroke-width="0.9"/>
<path d="M291.9 401.3L286.6 401L288.5 398.2Z" fill="#fff" stroke-width="0.9"/>
<path d="M300.2 341.2C299.7 341.5 297.9 342 296.8 342.8C295.6 343.5 294 345 293.5 345.5L303.5 351.2Q308.2 350 310.2 347.2" stroke-width="1.5"/>
<ellipse cx="294" cy="350.9" rx="4.6" ry="2.5" transform="rotate(-8 294 350.9)" fill="#fff" stroke-width="1.1"/>
<path d="M291.4 349.6L296.4 352.4M291.6 352.5L296.6 349.4" stroke-width="1.3" stroke="#333"/>
<path d="M289.6 351.8A4.6 2.5 -8 0 0 298.2 352" stroke-width="1.8"/>
<path d="M318.8 352.1C318.2 352.4 316.4 352.9 315.2 353.6C314.1 354.4 312.5 355.9 312 356.4L322 362.1Q326.8 360.9 328.8 358.1" stroke-width="1.5"/>
<ellipse cx="312.5" cy="361.8" rx="4.6" ry="2.5" transform="rotate(-8 312.5 361.8)" fill="#fff" stroke-width="1.1"/>
<path d="M309.9 360.5L314.9 363.3M310.1 363.4L315.1 360.3" stroke-width="1.3" stroke="#333"/>
<path d="M308.1 362.7A4.6 2.5 -8 0 0 316.7 362.9" stroke-width="1.8"/>
<path d="M360.1 353.4L398.6 331.6L420.1 344.2L420.1 405.7L405 413.9L400 415.7L383.5 425.4L380.2 424.5L360.1 413Z" fill="#fff" stroke="none"/>
<path d="M360.1 353.4L360.1 413L380.2 424.5L383.5 425.4" />
<path d="M380.2 366.4L380.2 424.5" />
<path d="M382.6 366.7L382.6 425.2" stroke-width="0.9"/>
<path d="M360.1 353.4L398.6 331.6L420.1 344.2L405.9 354.1Q403.2 356 400.4 354.5L399.5 354Q398.9 355.2 397.7 356.6L384.4 365.3Q381.6 367 378.9 365.3Z" fill="#fff"/>
<path d="M379.3 342.9L399.5 354.5" />
<path d="M420.1 344.2L420.1 405.7" />
<path d="M400 356.2L400 366.2" />
<path d="M404.1 356.6L404.1 368.8" stroke="#888" stroke-width="0.7"/>
<path d="M386.2 366.2L386.2 372.7" stroke="#aaa" stroke-width="0.6"/>
<path d="M397.7 357.1L397.7 367.2" stroke="#aaa" stroke-width="0.6"/>
<path d="M416.5 361.7L416.5 376.3" stroke="#666" stroke-width="0.8"/>
<path d="M418.3 361.2L418.3 376.3" stroke="#999" stroke-width="0.6"/>
<path d="M420.1 405.7C419 406.3 415.8 408.4 413.2 409.8C410.7 411.1 407.2 412.8 405 413.7C402.8 414.7 400.8 415.3 400 415.6"/>
<path d="M384.4 388.2L405 388.2" stroke-width="1.5"/>
<path d="M384.8 389.2L384.8 397.4" stroke-width="0.9"/>
<path d="M383.9 397.4L383.5 420.3" stroke-width="1.3"/>
<path d="M386.7 389.2L386.7 410.2" stroke="#777" stroke-width="0.7"/>
<path d="M391.7 389.2L391.7 411.2L393.3 411.2L393.3 389.2Z" fill="#bbb" stroke="#555" stroke-width="0.6"/>
<path d="M395.1 389.2L395.1 413" stroke-width="0.9"/>
<path d="M399.5 389.2L399.5 415.3" stroke-width="0.9"/>
<path d="M401 389.2L401 414.8" stroke-width="0.9"/>
<path d="M403.6 389.2L403.6 413.7L405 413.5L405 389.2" fill="#ccc" stroke="#444" stroke-width="0.7"/>
<path d="M384.1 420.3C384.5 420.7 385.6 422 386.7 422.3C387.7 422.7 389.1 422.7 390.3 422.3C391.6 422 392.9 421.4 394 420.3C395.1 419.2 396.7 416.5 397.2 415.7" stroke-width="1.2"/>
<path d="M385.3 417.6C385.7 418 386.7 419.5 387.6 419.9C388.5 420.2 389.8 420.2 390.8 419.9C391.8 419.5 392.9 418.5 393.5 417.6C394.2 416.7 394.7 414.9 394.9 414.4" stroke-width="1.1"/>
<path d="M384.4 375L400 366.2L419.7 377.7L419.8 381.8L406.8 388.2Z" fill="#fff"/>
<path d="M384.4 375L406.8 388.2" stroke-width="1.6"/>
<path d="M400 366.2L400 368.1L414.2 376.3" stroke-width="0.8" stroke="#555"/>
<rect x="402.2" y="378.4" width="11.5" height="3.6" rx="1.8" transform="rotate(-22 407.9 380.2)" fill="#fff" stroke-width="1.1"/>
<path d="M407.3 379.1L408.2 381.6" stroke-width="0.7"/>
<path d="M388.7 409.8L388.7 425.8L390.3 425.8L390.3 409.8" fill="#ccc" stroke="#333" stroke-width="0.9"/>
<path d="M369.2 353.5C369.6 353.8 370 354.8 371.2 355.5C372.5 356.2 375.6 357.2 376.5 357.5L386 352Q384.2 349.2 379.2 347.8" stroke-width="1.5"/>
<ellipse cx="385.2" cy="357.4" rx="4.8" ry="2.6" transform="rotate(8 385.2 357.4)" fill="#fff" stroke-width="1.1"/>
<path d="M382.6 355.9L387.6 359M382.9 358.9L387.9 356.1" stroke-width="1.3" stroke="#333"/>
<path d="M380.9 358.5A4.8 2.6 8 0 0 389.6 358.3" stroke-width="1.8"/>
<path d="M387.8 342.8C388.1 343.1 388.5 344.1 389.8 344.8C391 345.4 394.1 346.4 395 346.8L404.5 341.2Q402.8 338.5 397.8 337" stroke-width="1.5"/>
<ellipse cx="403.8" cy="346.6" rx="4.8" ry="2.6" transform="rotate(8 403.8 346.6)" fill="#fff" stroke-width="1.1"/>
<path d="M401.1 345.1L406.1 348.2M401.4 348.1L406.4 345.3" stroke-width="1.3" stroke="#333"/>
<path d="M399.4 347.8A4.8 2.6 8 0 0 408.1 347.5" stroke-width="1.8"/>
<path d="M450.5 373.4C449.6 373.5 447 374.1 445.3 374C443.6 373.9 442 373.2 440.3 372.8C438.6 372.5 437 372 435.2 371.7C433.5 371.5 431.7 371.4 429.7 371.5C427.8 371.6 425.3 372 423.3 372.4C421.3 372.7 419.5 373.3 417.8 373.6C416.1 373.9 414 374.2 413.2 374.3" stroke-width="1.3"/>
<path d="M413.2 374.3C413.7 374.5 414.9 375.3 416 375.6C417.1 375.9 418.4 376.4 419.7 376.3C420.9 376.3 422.7 375.4 423.3 375.2" stroke-width="1.3"/>
<path d="M418.3 380C418.7 380 420.1 380 421 379.8C422 379.6 423.3 379 423.8 378.9" stroke-width="1.3"/>
<path d="M420.8 383.7C420.8 384.1 420.7 385.6 421 386.2C421.4 386.9 422.1 387.6 422.9 387.5C423.7 387.5 425.4 386.1 425.9 385.9" stroke-width="1.3"/>
<path d="M423.1 388.4C423.3 388.9 423.5 390.6 424.1 391.2C424.6 391.8 425.5 392.2 426.3 392.1C427.1 391.9 428.4 390.6 428.8 390.3" stroke-width="1.3"/>
<path d="M425.3 392.4C425.8 392.7 426.9 393.8 427.9 394.2C428.9 394.6 430.2 394.9 431.6 394.8C433 394.8 434.7 394.3 436.2 393.9C437.6 393.5 438.6 393.3 440.3 392.5C442 391.7 444.4 390 446.2 389.2C448.1 388.3 450.7 387.8 451.6 387.5" stroke-width="1.3"/>
<path d="M407.6 373.6C408.4 374.2 410.9 375.8 412.3 377.2C413.7 378.7 415.2 380.5 416 382.3C416.8 384 417.3 386 417.4 387.8C417.4 389.6 417.1 391.7 416.5 393.3C415.8 394.9 414.2 396.7 413.7 397.4" stroke-width="2"/>
<path d="M404.3 371.3L409.6 372.7L407 375.6Z" fill="#fff" stroke-width="0.9"/>
<path d="M408.7 398.5L414.2 395.6L414.6 398.8Z" fill="#fff" stroke-width="0.9"/>
<path d="M416.5 381.8L423.3 378.6L418.3 383.7Z" fill="#000" stroke-width="0.6"/>
</g>

<g id="lug" stroke="#000" fill="none" stroke-linejoin="round" stroke-linecap="round" stroke-width="1.1">
<circle cx="332.6" cy="606.6" r="14" fill="#fff" stroke-width="1.2"/>
<path d="M332.6 597V608M321 608.2H344M324 611H341M326.5 613.7H338.5"/>
<path d="M330.6 630.9C331.1 632 332.5 635.3 333.7 637.6C334.9 640 336.5 642.6 337.9 645.2C339.3 647.7 340.9 650.3 342 652.8C343.2 655.3 344.1 657.9 344.7 659.9C345.3 661.9 345.3 664.1 345.5 665M332.8 629.9C333.3 631 334.6 634.2 335.9 636.5C337.1 638.9 338.6 641.5 340 644C341.4 646.5 343.1 649.3 344.2 651.8C345.4 654.3 346.4 657.1 347 659.3C347.6 661.4 347.7 663.7 347.9 664.6" stroke-width="1.25"/>
<rect x="345.6" y="664.5" width="2.2" height="13" rx="1" fill="#999" stroke="#333" stroke-width="0.8"/>
<path d="M305.5 725.5Q305.5 722.5 308.5 722.5H367.8Q370.8 722.5 370.8 725.5V776.5A32.65 32.65 0 0 1 305.5 776.5Z" fill="#fff" stroke-width="1.3"/>
<path d="M306.3 725.2H370" stroke-width="0.9" stroke="#444"/>
<circle cx="338" cy="772.6" r="20.8" fill="#fff" stroke-width="1.2"/>
<circle cx="321.9" cy="737.9" r="7.9" fill="#fff" stroke-width="1.7"/>
<path d="M321.9 732.3V738.5" stroke-width="0.9"/>
<path d="M316.3 738.5H327.5" stroke-width="0.9"/>
<path d="M316.8 739.6Q321.9 746.4 327 739.6Z" fill="#000" stroke-width="0.6"/>
<rect x="316.2" y="690.3" width="4.2" height="14.6" rx="0.8" fill="#fff"/>
<rect x="355.2" y="690.3" width="4.2" height="14.6" rx="0.8" fill="#fff"/>
<rect x="320.4" y="683.4" width="34.8" height="38.6" fill="#fff" stroke-width="1.3"/>
<path d="M320.4 711.3H355.2M320.4 718.8H355.2" stroke-width="1"/>
<path d="M320.4 715.2H355.2" stroke-width="2.4"/>
<path d="M321 721.4H354.6" stroke-width="1.4"/>
<circle cx="337.8" cy="697.8" r="16.4" fill="#fff" stroke-width="1.2"/>
<circle cx="337.8" cy="697.8" r="14.7" stroke-width="0.9"/>
<circle cx="337.8" cy="697.8" r="10.4" stroke-width="1.1"/>
<circle cx="337.8" cy="697.8" r="8.5" stroke-width="1.1"/>
<path d="M337.8 681.5V689.3M337.8 706.3V714M321.5 697.8H327.4M348.2 697.8H354" stroke-width="0.8"/>
<path d="M336.8 692H338.8V696.8H343.6V698.8H338.8V703.6H336.8V698.8H332V696.8H336.8Z" fill="#fff" stroke-width="0.9"/>
</g>

<g id="drill" stroke="#000" fill="none" stroke-linejoin="round" stroke-linecap="round" stroke-width="1.65">
<path d="M847.2 67.9L856.5 70.8" stroke-width="2.6"/>
<path d="M856.5 70.2L863.6 72.2" stroke-width="0.9"/>
<path d="M856.5 71.5L863.6 73.5" stroke-width="0.9"/>
<path d="M864 69.8C864.8 69.3 867.1 67.8 869 67.1C870.9 66.4 874.2 65.8 875.2 65.6" />
<path d="M875.2 65.6L881.1 67.4" />
<path d="M881.1 67.4C881.4 67.3 882.4 67 883.2 66.8C883.9 66.7 885.2 66.4 885.7 66.3" />
<path d="M885.7 66.3L897.3 69.1" />
<path d="M864.8 68.9C864.6 69.5 863.5 71.5 863.3 72.7C863.2 73.8 863.5 75 864 76C864.5 77 865.7 78.2 866.1 78.7" />
<path d="M871.5 66.4C871.1 67 869.4 68.7 868.8 70.2C868.3 71.6 867.9 73.1 868.2 75.2C868.5 77.3 870.2 81.6 870.7 82.8" />
<path d="M883.2 67.1C882.6 67.7 880.6 69.4 879.8 71C879.1 72.6 878.6 74.1 878.8 76.8C879.1 79.6 881.1 85.7 881.5 87.5" />
<path d="M866.1 78.7L870.7 82.8L878.6 85.3L881.5 87.5" />
<path d="M881.5 87.5L888.6 89.2" />
<path d="M888.6 91L888.6 73.1L890.7 71.8L894.8 69.9L897.3 69.1L900.7 67.2L938.2 77.7" />
<path d="M897.3 69.1L930.7 78.3" />
<path d="M890.7 72L926.1 82" />
<path d="M888.8 78.7L923.2 88.1" />
<path d="M888.6 89.2L922.3 97.7" />
<path d="M888.6 91L890.7 92L913.2 97.8L913.6 96.7" />
<path d="M927.3 81.7C926.8 82.2 925.1 83.5 924.4 84.6C923.7 85.8 923.3 87.2 923.1 88.7C922.9 90.2 923.1 92.1 923.3 93.6C923.4 95 924 96.7 924.1 97.4" />
<path d="M927.3 81.7L931.1 80L937.4 79L938.2 77.6" />
<path d="M929 79.6L931.1 77.4L932.8 79.8" stroke-width="1"/>
<path d="M937.4 79L937.6 87.6L926.8 91.4" />
<path d="M939.3 94.7L927.9 97.9" />
<path d="M925.2 84.1L926.8 91.4L927.9 97.9L930 105L927.1 107.8L916.8 105.1" />
<path d="M924.1 97.4L926.8 106" />
<path d="M937.6 87.6C938.1 88.6 939.7 91.3 940.3 93.6C941 95.8 941.2 98.6 941.4 101.2C941.7 103.7 941.6 106.1 941.9 108.8C942.1 111.4 942.4 114.2 942.8 116.9C943.2 119.6 943.9 123.7 944.1 125" stroke-width="1.5"/>
<path d="M939.3 94.7C939.1 95.8 938.4 98.8 938.4 101.2C938.4 103.5 938.8 106.1 939.3 108.8C939.7 111.4 940.3 114.2 940.9 116.9C941.4 119.6 942.2 123.7 942.5 125" stroke-width="1.2"/>
<path d="M927.9 97.9L936 112L918.7 110.4" />
<path d="M914.9 97.4L914.3 114.2L917.2 114.2L916.5 105.1L915.1 97.9" />
<path d="M917.7 114.1L924.8 141.8L914.5 146.4" />
<path d="M919.5 112.4L928.7 143.6L926.9 147.5" />
<path d="M930.6 112.4L934.7 149.3" />
<path d="M934.7 112.1L942.5 150.3" />
<path d="M938.2 105L947.1 147.8" stroke-width="1.2"/>
<path d="M942.5 105L948.3 148.9" stroke-width="1.8"/>
<path d="M914.5 146.4L912.9 148.8L912.4 175.8L935.4 181.8L952.4 176.5L952.4 147.4L948.2 149.1L945.3 150.3L941.8 150.7L937.5 154.6L934 154L912.9 148.8" fill="#fff"/>
<path d="M912.4 175.8L935.4 181.8L952.4 176.5" stroke-width="1.9"/>
<path d="M933.8 154L933.8 180.4" />
<path d="M937 154.6L937 181.1" />
<path d="M915 147.7L934.7 152.2L937 149.9" stroke-width="1"/>
<path d="M927.3 147.5L935.4 149.3" stroke-width="1"/>
<path d="M914.5 146.4L924.8 141.8" />
<path d="M952.4 147.4L948.9 145.7" stroke-width="1"/>
</g>

<g id="plug" stroke="#000" fill="none" stroke-linejoin="round" stroke-linecap="round">
<path d="M741.2 61.8L742.5 57.9L746.2 55.7L769.2 55.7L776.7 54.2L782.1 51.7L783.3 55.8L800.8 55.4L801.2 53.3L803.8 53.3L803.8 70L801.2 70L800.8 68.2L783.3 67.9L782.5 72.1L776.7 69.3L769.2 67.9L746.2 67.9L742.5 65.8Z" fill="#000" stroke-width="0.8"/>
<path d="M743.8 58.2L746.4 58.2L745.9 60.8L743.4 60.8Z" fill="#fff" stroke="none"/>
<path d="M743.4 63.2L745.9 63.2L746.4 65.7L743.8 65.7Z" fill="#fff" stroke="none"/>
<path d="M747.9 58.2L750.6 58.2L750.1 60.8L747.6 60.8Z" fill="#fff" stroke="none"/>
<path d="M747.6 63.2L750.1 63.2L750.6 65.7L747.9 65.7Z" fill="#fff" stroke="none"/>
<path d="M752.1 58.2L754.8 58.2L754.2 60.8L751.8 60.8Z" fill="#fff" stroke="none"/>
<path d="M751.8 63.2L754.2 63.2L754.8 65.7L752.1 65.7Z" fill="#fff" stroke="none"/>
<path d="M756.7 58.2L759.3 58.2L758.8 60.8L756.3 60.8Z" fill="#fff" stroke="none"/>
<path d="M756.3 63.2L758.8 63.2L759.3 65.7L756.7 65.7Z" fill="#fff" stroke="none"/>
<path d="M761.2 58.2L763.9 58.2L763.4 60.8L760.9 60.8Z" fill="#fff" stroke="none"/>
<path d="M760.9 63.2L763.4 63.2L763.9 65.7L761.2 65.7Z" fill="#fff" stroke="none"/>
<path d="M765.8 58.2L768.5 58.2L768 60.8L765.5 60.8Z" fill="#fff" stroke="none"/>
<path d="M765.5 63.2L768 63.2L768.5 65.7L765.8 65.7Z" fill="#fff" stroke="none"/>
<path d="M770.8 58.2L773.5 58.2L773 60.8L770.5 60.8Z" fill="#fff" stroke="none"/>
<path d="M770.5 63.2L773 63.2L773.5 65.7L770.8 65.7Z" fill="#fff" stroke="none"/>
<path d="M775.4 58.2L778.1 58.2L777.6 60.8L775.1 60.8Z" fill="#fff" stroke="none"/>
<path d="M775.1 63.2L777.6 63.2L778.1 65.7L775.4 65.7Z" fill="#fff" stroke="none"/>
<path d="M779.6 58.2L781.4 58.2L780.9 60.8L779.2 60.8Z" fill="#fff" stroke="none"/>
<path d="M779.2 63.2L780.9 63.2L781.4 65.7L779.6 65.7Z" fill="#fff" stroke="none"/>
<path d="M782.1 57.9L783.3 57.9L783.3 66.2L782.1 66.2Z" fill="#fff" stroke="none"/>
<path d="M797.1 58.8L801.7 58.8L801.7 65L797.1 65Z" fill="#fff" stroke="none"/>
<path d="M787.5 60L788.7 60L788.7 63.8L787.5 63.8Z" fill="#fff" stroke="none"/>
<path d="M790.4 60L791.6 60L791.6 63.8L790.4 63.8Z" fill="#fff" stroke="none"/>
<path d="M793.3 60L794.5 60L794.5 63.8L793.3 63.8Z" fill="#fff" stroke="none"/>
<path d="M785.8 57.1L788.3 57.1" stroke="#fff" stroke-width="0.8"/>
<path d="M785.8 66.7L788.3 66.7" stroke="#fff" stroke-width="0.8"/>
<g transform="translate(742.5 93.3) rotate(6.8)">
<path d="M-3.6 -0.6L0 -2.6H66.7V2.6H0Z" fill="#000" stroke-width="0.6"/>
<path d="M1.2 1.6L2.1 -1.6M3.4 1.6L4.3 -1.6M5.5 1.6L6.4 -1.6M7.7 1.6L8.6 -1.6M9.8 1.6L10.7 -1.6M12 1.6L12.9 -1.6M14.1 1.6L15 -1.6M16.3 1.6L17.2 -1.6M18.5 1.6L19.4 -1.6M20.6 1.6L21.5 -1.6M22.8 1.6L23.7 -1.6M24.9 1.6L25.8 -1.6M27.1 1.6L28 -1.6M29.2 1.6L30.1 -1.6M31.4 1.6L32.3 -1.6M33.6 1.6L34.5 -1.6M35.7 1.6L36.6 -1.6M37.9 1.6L38.8 -1.6M40 1.6L40.9 -1.6M42.2 1.6L43.1 -1.6M44.3 1.6L45.2 -1.6M46.5 1.6L47.4 -1.6M48.7 1.6L49.6 -1.6M50.8 1.6L51.7 -1.6M53 1.6L53.9 -1.6M55.1 1.6L56 -1.6M57.3 1.6L58.2 -1.6M59.4 1.6L60.3 -1.6M61.6 1.6L62.5 -1.6M63.8 1.6L64.7 -1.6" stroke="#fff" stroke-width="0.55"/>
<rect x="66.7" y="-2.6" width="3.2" height="5.2" fill="#fff" stroke-width="0.9"/>
</g>
</g>

</svg>
</body></html>
